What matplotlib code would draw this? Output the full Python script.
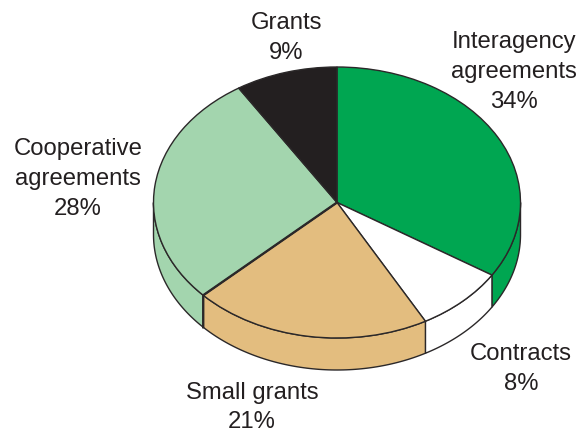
import numpy as np
from matplotlib import pyplot as plt

labels = ["Interagency\nagreements\n34%", "Contracts\n8%", "Small grants\n21%", "Cooperative\nagreements\n28%", "Grants\n9%"]
values = [34, 8, 21, 28, 9]
colors = ["#00A651", "#FFFFFF", "#E3BD7F", "#A3D5AE", "#231F20"]
label_x = [514, 521, 252, 78, 286]
label_y = [72, 369, 407.5, 179, 38]

# pixel layout of the fake 3d pie
WIDTH, HEIGHT = 583, 433
RX, RY = 183.5, 135.5
DEPTH = 32
LINE = "#2B2829"
YSCALE = RX / RY  # y data units per pixel, so a round pie comes out flattened
CX, CY = 337, (HEIGHT - 202.5) * YSCALE

plt.rcParams["font.family"] = ["Liberation Sans", "DejaVu Sans"]

fig = plt.figure(figsize=(WIDTH / 100, HEIGHT / 100), dpi=100)
ax = fig.add_axes([0, 0, 1, 1])

depth_y = DEPTH * YSCALE
edges = 90 - np.cumsum([0] + values) * 3.6

# side wall, only the part of each slice facing the viewer
for i in range(len(values)):
    a1, a2 = edges[i + 1], edges[i]
    lo, hi = max(a1, -180), min(a2, 0)
    if hi <= lo:
        continue
    t = np.radians(np.linspace(lo, hi, 80))
    x = CX + RX * np.cos(t)
    y = CY + RX * np.sin(t)
    ax.fill(
        np.concatenate([x, x[::-1]]),
        np.concatenate([y, y[::-1] - depth_y]),
        facecolor=colors[i],
        edgecolor=LINE,
        linewidth=1.0,
        zorder=1,
    )

# top face
ax.pie(
    values,
    colors=colors,
    startangle=90,
    counterclock=False,
    center=(CX, CY),
    radius=RX,
    frame=True,
    wedgeprops={"edgecolor": LINE, "linewidth": 1.0, "zorder": 2},
)

# the seam between small grants and cooperative is heavier
seam = np.radians(edges[3])
sx = CX + RX * np.cos(seam)
sy = CY + RX * np.sin(seam)
ax.plot([CX, sx, sx], [CY, sy, sy - depth_y], color=LINE, linewidth=1.7, zorder=3)

ax.set_aspect("auto")
ax.set_xlim(0, WIDTH)
ax.set_ylim(0, HEIGHT * YSCALE)
ax.axis("off")

for text, x, y in zip(labels, label_x, label_y):
    ax.text(
        x,
        (HEIGHT - y) * YSCALE,
        text,
        ha="center",
        va="center",
        fontsize=17.2,
        linespacing=1.46,
        color="#231F20",
        zorder=4,
    )

fig.savefig("out.png", dpi=100)
